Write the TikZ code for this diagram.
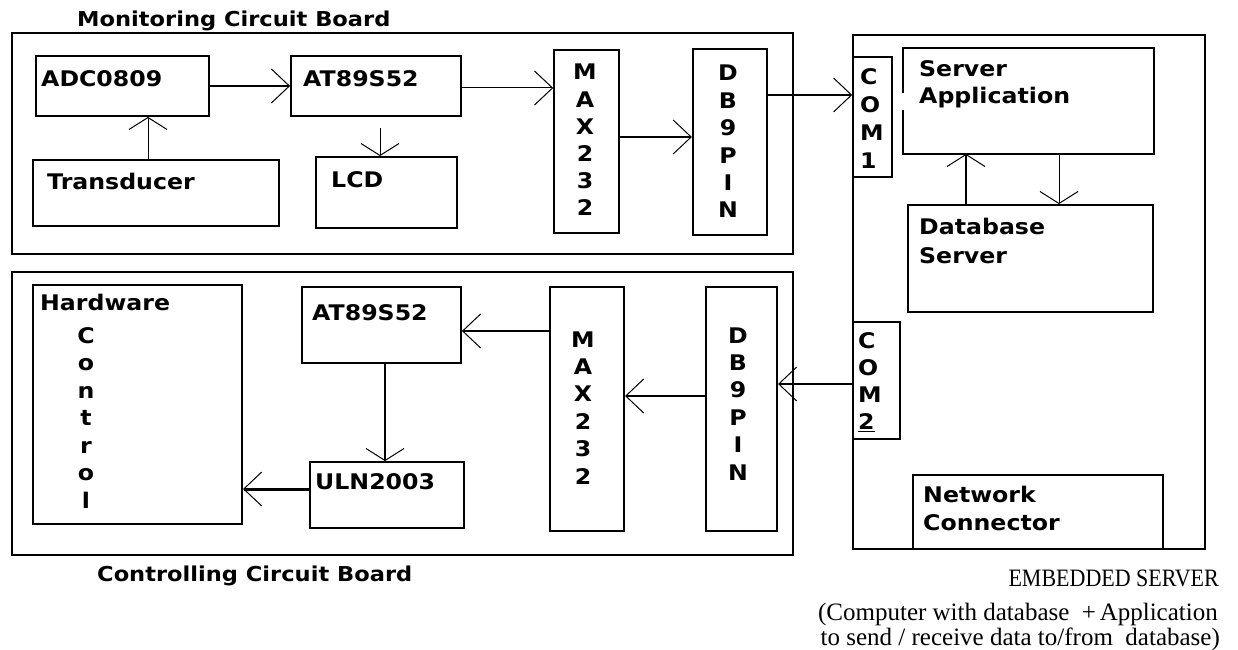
\documentclass[tikz,border=0pt]{standalone}
\usepackage{graphicx}
\usepackage{fontspec}
\setmainfont{Liberation Serif}
\newfontfamily\labfont{DejaVu Sans}[FakeStretch=1.1]
\usetikzlibrary{arrows.meta,calc}
\begin{document}
\begin{tikzpicture}[x=1bp,y=-1bp,
  board/.style={draw,line width=1.6bp,inner sep=0pt},
  box/.style={draw,line width=1.8bp,inner sep=0pt},
  lab/.style={font=\labfont\bfseries\fontsize{21.5bp}{27bp}\selectfont,inner sep=0pt},
  title/.style={font=\labfont\bfseries\fontsize{20.5bp}{27bp}\selectfont,inner sep=0pt},
  serif/.style={font=\fontsize{25bp}{30bp}\selectfont,inner sep=0pt},
  arr/.style={-{Straight Barb[length=18bp,width=34bp,line width=1bp]}},
  varr/.style={-{Straight Barb[length=12bp,width=38bp,line width=1bp]}},
  thin/.style={line width=1bp},
  med/.style={line width=1.6bp},
  thick/.style={line width=2.5bp}]
\useasboundingbox (0,0) rectangle (1238,650);

% boards
\node[board,minimum width=781bp,minimum height=221bp] (mon) at (402.5,143.5) {};
\node[board,minimum width=781bp,minimum height=283bp] (ctl) at (402.5,413.5) {};
\node[board,minimum width=352bp,minimum height=514bp] (srv) at (1029,292) {};

% monitoring board boxes
\node[box,minimum width=173bp,minimum height=60bp] (adc) at (122.5,86) {};
\node[box,minimum width=170bp,minimum height=60bp] (at1) at (376,86) {};
\node[box,line width=2.4bp,minimum width=246bp,minimum height=66bp] (trans) at (156,193) {};
\node[box,minimum width=141bp,minimum height=71bp] (lcd) at (386.5,192.5) {};
\node[box,line width=1.5bp,minimum width=65bp,minimum height=183bp] (max1) at (586.5,141.5) {};
\node[box,line width=2.2bp,minimum width=74bp,minimum height=186bp] (db1) at (730,142) {};

% server boxes
\node[box,line width=1.5bp,minimum width=39bp,minimum height=120bp] (com1) at (872.5,117) {};
\node[box,draw=none,minimum width=249bp,minimum height=104bp] (app) at (1028.5,101) {};
\draw[line width=1.8bp] (app.west |- 0,93) -- (app.north west) -- (app.north east)
  -- (app.south east) -- (app.south west) -- (app.west |- 0,110);
\node[box,minimum width=245bp,minimum height=107bp] (dbs) at (1030.5,258.5) {};
\node[box,line width=1.5bp,minimum width=47bp,minimum height=117bp] (com2) at (876.5,380.5) {};
\node[box,minimum width=250bp,minimum height=74bp] (net) at (1038,512) {};

% controlling board boxes
\node[box,line width=2bp,minimum width=209bp,minimum height=239bp] (hw) at (137.5,404.5) {};
\node[box,minimum width=159bp,minimum height=76bp] (at2) at (381.5,325) {};
\node[box,minimum width=154bp,minimum height=66bp] (uln) at (387,495) {};
\node[box,line width=2bp,minimum width=74bp,minimum height=244bp] (max2) at (587,409) {};
\node[box,line width=2bp,minimum width=71bp,minimum height=244bp] (db2) at (741.5,409) {};

% titles
\node[title,anchor=base west] (tmon) at (77,27) {Monitoring Circuit Board};
\node[title,anchor=base west] (tctl) at (97,581) {Controlling Circuit Board};

% box labels
\node[lab,anchor=base west] (ladc) at (41,87) {ADC0809};
\node[lab,anchor=base west] (lat1) at (303,87) {AT89S52};
\node[lab,anchor=base west] (ltrans) at (47,190) {Transducer};
\node[lab,anchor=base west] (llcd) at (331,188) {LCD};
\node[lab,anchor=base west] (lapp1) at (919,77) {Server};
\node[lab,anchor=base west] (lapp2) at (919,104) {Application};
\node[lab,anchor=base west] (ldbs1) at (919,235) {Database};
\node[lab,anchor=base west] (ldbs2) at (919,263) {Server};
\node[lab,anchor=base west] (lnet1) at (923,502) {Network};
\node[lab,anchor=base west] (lnet2) at (923,530) {Connector};
\node[lab,anchor=base west] (lhw) at (40,310) {Hardware};
\node[lab,anchor=base west] (lat2) at (312,320) {AT89S52};
\node[lab,anchor=base west] (luln) at (315,489) {ULN2003};

% vertical stacks
\foreach \ch [count=\i] in {M,A,X,2,3,2}
  \node[lab,anchor=base] (lmaxa\i) at (585,{80+(\i-1)*27.2}) {\ch};
\foreach \ch [count=\i] in {D,B,9,P,I,N}
  \node[lab,anchor=base] (ldba\i) at (728,{81+(\i-1)*27.4}) {\ch};
\foreach \ch [count=\i] in {M,A,X,2,3,2}
  \node[lab,anchor=base] (lmaxb\i) at (583,{347+(\i-1)*27.4}) {\ch};
\foreach \ch [count=\i] in {D,B,9,P,I,N}
  \node[lab,anchor=base] (ldbb\i) at (738,{343+(\i-1)*27.4}) {\ch};
\foreach \ch [count=\i] in {C,O,M,1}
  \node[lab,anchor=base west] (lcoma\i) at (860,{85+(\i-1)*27.7}) {\ch};
\foreach \ch [count=\i] in {C,O,M,{\underline{2}}}
  \node[lab,anchor=base west] (lcomb\i) at (858,{348+(\i-1)*27.3}) {\ch};
\foreach \ch [count=\i] in {C,o,n,t,r,o,l}
  \node[lab,anchor=base] (lctrl\i) at (86,{343+(\i-1)*27.5}) {\ch};

% connectors (monitoring)
\draw[arr,thick] (adc.east) -- (at1.west);
\draw[arr,thin] (at1.east |- 0,88) -- (max1.west |- 0,88);
\draw[arr,med] (max1.east |- 0,137) -- (db1.west |- 0,137);
\draw[arr,line width=2bp] (db1.east |- 0,95) -- (com1.west |- 0,95);
\draw[varr,thin] (trans.north -| 148,0) -- (adc.south -| 148,0);
\coordinate (lcdsrc) at (380,128);
\draw[varr,thin] (lcdsrc) -- (lcd.north -| lcdsrc);

% connectors (server)
\draw[varr,thin] (app.south -| 1059,0) -- (dbs.north -| 1059,0);
\draw[varr,thick] (dbs.north -| 966,0) -- (app.south -| 966,0);

% connectors (controlling)
\draw[arr,thick] (com2.west |- 0,384) -- (db2.east |- 0,384);
\draw[arr,med] (db2.west |- 0,396) -- (max2.east |- 0,396);
\draw[arr,med] (max2.west |- 0,331) -- (at2.east |- 0,331);
\draw[varr,line width=1.2bp] (at2.south -| 385,0) -- (uln.north -| 385,0);
\draw[arr,line width=3bp] (uln.west |- 0,489) -- (hw.east |- 0,489);

% caption
\node[serif,anchor=base east] (es1) at (1219,586) {\scalebox{0.88}[1]{EMBEDDED SERVER}};
\node[serif,anchor=base east] (es2) at (1218,620) {(Computer with database\ \ +\hspace{0.15em}Application};
\node[serif,anchor=base east] (es3) at (1220,645) {to send / receive data to/from\ \ database)};
\end{tikzpicture}
\end{document}
